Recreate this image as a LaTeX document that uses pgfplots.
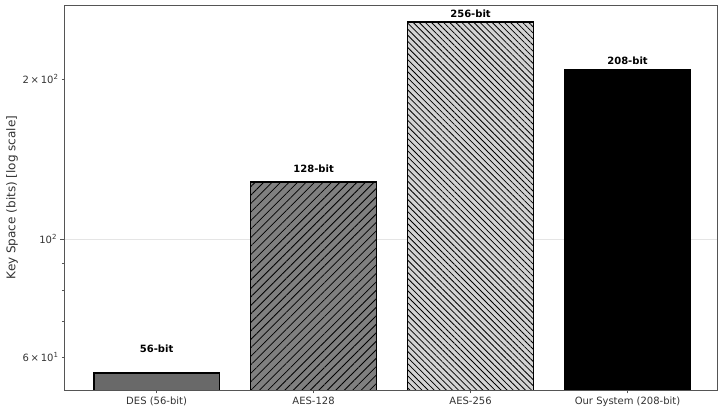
\documentclass[border=0pt]{standalone}
\usepackage{fontspec}
\setmainfont{DejaVu Sans}
\usepackage{pgfplots}
\pgfplotsset{compat=1.18}
\usetikzlibrary{patterns.meta}
\definecolor{desgray}{HTML}{696969}
\definecolor{aesgray}{HTML}{808080}
\definecolor{aeslight}{HTML}{D3D3D3}
\definecolor{spine}{HTML}{555555}
\definecolor{txt}{HTML}{333333}
\begin{document}
\begin{tikzpicture}
\useasboundingbox (-64pt,-22pt) rectangle (661pt,390pt);
\begin{axis}[
  scale only axis,
  width=653pt, height=385pt,
  at={(0pt,0pt)}, anchor=south west,
  ymode=log,
  ymin=52, ymax=275.6,
  xmin=-0.59, xmax=3.57,
  ybar, bar width=0.8, bar shift=0pt,
  xtick={0,1,2,3},
  xticklabels={DES (56-bit),AES-128,AES-256,Our System (208-bit)},
  ytick={100},
  yticklabels={10\textsuperscript{2}},
  extra y ticks={60,200},
  extra y tick labels={6\,×\,10\textsuperscript{1},2\,×\,10\textsuperscript{2}},
  extra y tick style={grid=none, major tick length=2pt},
  minor ytick={70,80,90},
  minor tick length=2pt,
  major tick length=3.5pt,
  tick align=outside,
  xtick pos=bottom, ytick pos=left,
  ymajorgrids,
  major grid style={black!10, line width=0.5pt},
  axis line style={spine, line width=0.8pt},
  tick style={spine, line width=0.6pt},
  ticklabel style={font=\fontsize{10}{12}\selectfont, text=txt},
  ylabel={Key Space (bits) [log scale]},
  every axis y label/.style={at={(axis description cs:0,0.5)}, xshift=-52pt, rotate=90, anchor=center, font=\fontsize{12}{14}\selectfont, text=txt},
]
\addplot[fill=desgray, draw=black, line width=1.4pt] coordinates {(0,56)};
\addplot[fill=aesgray, draw=black, line width=1.4pt,
  postaction={pattern={Lines[angle=45,distance=6pt,line width=0.8pt]}, pattern color=black}] coordinates {(1,128)};
\addplot[fill=aeslight, draw=black, line width=1.4pt,
  postaction={pattern={Lines[angle=-45,distance=4.3pt,line width=0.8pt]}, pattern color=black}] coordinates {(2,256)};
\addplot[fill=black, draw=black, line width=1.4pt] coordinates {(3,208)};
\addplot[draw=none, fill=none, nodes near coords, point meta=explicit symbolic,
  nodes near coords style={font=\bfseries\fontsize{10}{12}\selectfont, anchor=south, inner sep=0pt}]
  table[meta=label] {
x y label
0 61 56-bit
1 133 128-bit
2 261 256-bit
3 213 208-bit
};
\end{axis}
\end{tikzpicture}
\end{document}
